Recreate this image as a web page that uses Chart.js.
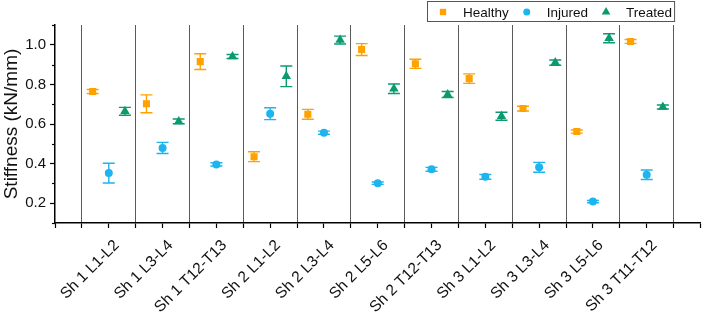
<!DOCTYPE html>
<html>
<head>
<meta charset="utf-8">
<script src="https://cdn.jsdelivr.net/npm/chart.js@4"></script>
<style>
  html, body { margin: 0; padding: 0; background: #fff; }
  #wrap { width: 706px; height: 312px; }
</style>
</head>
<body>
<div id="wrap"><canvas id="chart" width="706" height="312"></canvas></div>
<script>
const categories = ['Sh 1 L1-L2', 'Sh 1 L3-L4', 'Sh 1 T12-T13', 'Sh 2 L1-L2', 'Sh 2 L3-L4', 'Sh 2 L5-L6',
  'Sh 2 T12-T13', 'Sh 3 L1-L2', 'Sh 3 L3-L4', 'Sh 3 L5-L6', 'Sh 3 T11-T12'];
const healthy    = [0.764, 0.702, 0.915, 0.435, 0.649, 0.976, 0.904, 0.829, 0.678, 0.562, 1.017];
const healthyErr = [0.010, 0.045, 0.040, 0.025, 0.025, 0.030, 0.023, 0.024, 0.012, 0.008, 0.010];
const injured    = [0.352, 0.479, 0.396, 0.652, 0.556, 0.301, 0.371, 0.333, 0.381, 0.208, 0.344];
const injuredErr = [0.050, 0.028, 0.008, 0.030, 0.008, 0.006, 0.010, 0.012, 0.025, 0.006, 0.024];
const treated    = [0.664, 0.613, 0.941, 0.841, 1.024, 0.778, 0.749, 0.639, 0.910, 1.033, 0.686];
const treatedErr = [0.020, 0.012, 0.010, 0.052, 0.020, 0.024, 0.015, 0.020, 0.013, 0.023, 0.010];
const yLabels = [0.2, 0.4, 0.6, 0.8, 1.0];

const FONT = "'Liberation Sans', Arial, sans-serif";

// x position of each group member, in category units
const points = (vals, shift) => vals.map((v, i) => ({ x: i + 1 + shift, y: v }));

const makeSet = (label, vals, errs, shift, color, style, radius) => ({
  label: label,
  data: points(vals, shift),
  errors: errs,
  backgroundColor: color,
  borderColor: color,
  borderWidth: 0,
  pointStyle: style,
  pointRadius: radius,
  pointHoverRadius: radius,
});

// error bars with caps, drawn through the chart scales
const errorBars = {
  id: 'errorBars',
  beforeDatasetsDraw(chart) {
    const { ctx, scales: { x, y } } = chart;
    ctx.save();
    ctx.lineWidth = 1.4;
    chart.data.datasets.forEach(ds => {
      ctx.strokeStyle = ds.borderColor;
      ds.data.forEach((p, i) => {
        const px = x.getPixelForValue(p.x);
        const top = y.getPixelForValue(p.y + ds.errors[i]);
        const bot = y.getPixelForValue(p.y - ds.errors[i]);
        ctx.beginPath();
        ctx.moveTo(px, top); ctx.lineTo(px, bot);
        ctx.moveTo(px - 6, top); ctx.lineTo(px + 6, top);
        ctx.moveTo(px - 6, bot); ctx.lineTo(px + 6, bot);
        ctx.stroke();
      });
    });
    ctx.restore();
  },
};

// rotated category labels, minor y ticks, boxed legend
const extras = {
  id: 'extras',
  afterDraw(chart) {
    const { ctx, scales: { x, y } } = chart;
    ctx.save();

    // category labels at 45 degrees, ending just right of their tick
    ctx.font = '15.5px ' + FONT;
    ctx.fillStyle = '#111';
    ctx.textAlign = 'right';
    ctx.textBaseline = 'alphabetic';
    categories.forEach((c, i) => {
      const px = x.getPixelForValue(i + 1);
      ctx.save();
      ctx.translate(px + 11, x.top + 23);
      ctx.rotate(-Math.PI / 4);
      ctx.fillText(c, 0, 0);
      ctx.restore();
    });

    ctx.strokeStyle = '#000';
    ctx.lineWidth = 1.2;
    for (let k = 1; k <= 11; k += 2) {
      const py = Math.round(y.getPixelForValue(k / 10)) + 0.5;
      ctx.beginPath();
      ctx.moveTo(y.right - 3, py);
      ctx.lineTo(y.right, py);
      ctx.stroke();
    }

    // legend
    ctx.font = '13.5px ' + FONT;
    ctx.textAlign = 'left';
    ctx.textBaseline = 'middle';
    let mx = 443;
    const my = 12;
    const startX = mx - 16;
    chart.data.datasets.forEach(ds => {
      ctx.fillStyle = ds.backgroundColor;
      Chart.helpers.drawPoint(ctx, { pointStyle: ds.pointStyle, radius: ds.pointRadius - 0.5, borderWidth: 0 }, mx, my);
      ctx.fillStyle = '#111';
      const tx = mx + 20;
      ctx.fillText(ds.label, tx, my + 1);
      mx = tx + ctx.measureText(ds.label).width + 18;
    });
    const endX = mx - 16;
    ctx.strokeStyle = '#555';
    ctx.lineWidth = 1;
    ctx.strokeRect(startX + 0.5, 1.5, endX - startX, 20);
    ctx.restore();
  },
};

new Chart(document.getElementById('chart'), {
  type: 'scatter',
  data: {
    datasets: [
      makeSet('Healthy', healthy, healthyErr, -0.3, '#FFA200', 'rect', 5),
      makeSet('Injured', injured, injuredErr, 0, '#1EB4EE', 'circle', 4),
      makeSet('Treated', treated, treatedErr, 0.3, '#0B9A6F', 'triangle', 5.5),
    ],
  },
  options: {
    responsive: false,
    animation: false,
    layout: { padding: { top: 25, right: 2, left: 0, bottom: 0 } },
    plugins: {
      legend: { display: false },
      tooltip: { enabled: false },
    },
    scales: {
      x: {
        type: 'linear',
        min: 0,
        max: 12,
        afterBuildTicks: scale => {
          const t = [];
          for (let k = 0; k <= 24; k++) t.push({ value: k / 2 });
          scale.ticks = t;
        },
        afterFit: scale => {
          scale.height = 89;
          scale.paddingRight = 0;
          scale.paddingLeft = 0;
        },
        border: { color: '#000', width: 1.5 },
        grid: {
          color: c => (c.tick && c.tick.value % 1 === 0.5) ? '#5a5a5a' : 'rgba(0,0,0,0)',
          lineWidth: 1,
          tickColor: '#000',
          tickLength: 5,
          tickWidth: 1.2,
        },
        ticks: {
          autoSkip: false,
          minRotation: 0,
          maxRotation: 0,
          callback: () => '',
        },
      },
      y: {
        min: 0.1,
        max: 1.1,
        afterBuildTicks: scale => {
          scale.ticks = yLabels.map(v => ({ value: v }));
        },
        afterFit: scale => { scale.width = 55; },
        border: { color: '#000', width: 1.5 },
        grid: {
          drawOnChartArea: false,
          tickColor: '#000',
          tickLength: 5,
          tickWidth: 1.2,
        },
        ticks: {
          padding: 4,
          color: '#111',
          font: { family: FONT, size: 15 },
          callback: v => v.toFixed(1),
        },
        title: {
          display: true,
          text: 'Stiffness (kN/mm)',
          color: '#111',
          font: { family: FONT, size: 19 },
          padding: { top: 0, bottom: 0 },
        },
      },
    },
  },
  plugins: [errorBars, extras],
});
</script>
</body>
</html>
